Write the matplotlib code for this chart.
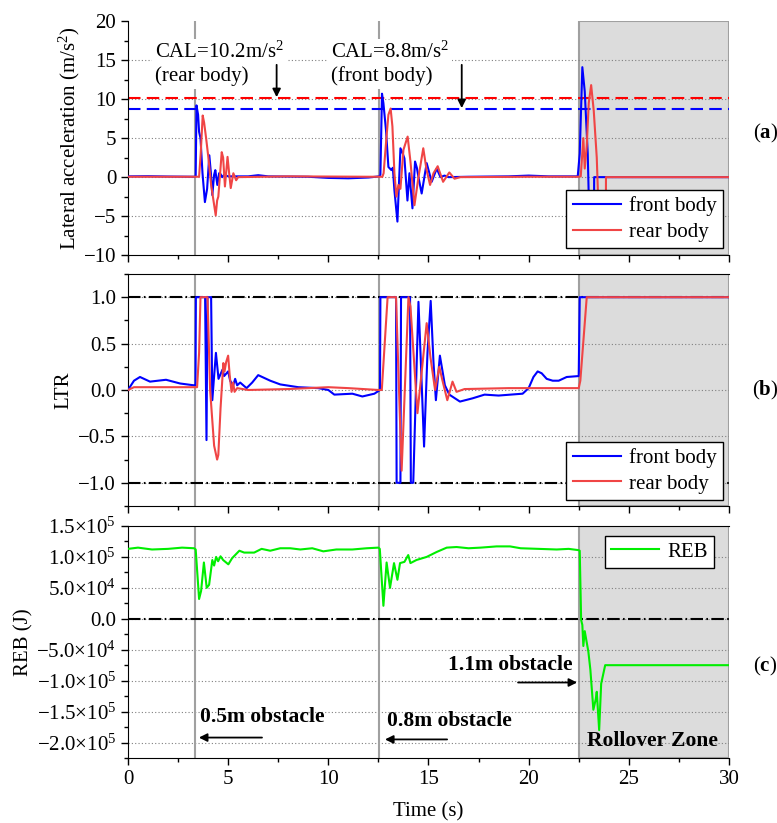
import numpy as np
import matplotlib
matplotlib.use("Agg")
import matplotlib.pyplot as plt
from matplotlib.ticker import MultipleLocator, FuncFormatter

plt.rcParams["font.family"] = ["Liberation Serif", "DejaVu Serif"]
plt.rcParams["mathtext.fontset"] = "custom"
plt.rcParams["mathtext.rm"] = "Liberation Serif"
plt.rcParams["mathtext.bf"] = "Liberation Serif:bold"
plt.rcParams["mathtext.default"] = "regular"
plt.rcParams["font.size"] = 15

# ---- data ----
# obstacle hits and rollover start (s)
obstacle_times = [3.33, 12.53]
rollover_start = 22.5
t_end = 30.0

# critical lateral acceleration (m/s^2)
cal_rear = 10.2
cal_front = 8.8

# (a) lateral acceleration, front body
acc_front_t = [0, 1, 2, 3.3, 3.38, 3.42, 3.5, 3.55, 3.62, 3.72, 3.84, 3.95, 4.06, 4.14, 4.21, 4.3,
               4.36, 4.46, 4.55, 4.62, 4.7, 4.8, 5.0, 6.0, 6.5, 7.0, 9.0, 10.0, 11.0, 12.0, 12.55,
               12.6, 12.68, 12.75, 12.88, 13.0, 13.15, 13.22, 13.3, 13.45, 13.6, 13.72, 13.8, 13.95,
               14.05, 14.2, 14.33, 14.42, 14.5, 14.66, 14.91, 15.16, 15.41, 15.6, 15.8, 16.0, 17.0,
               19.0, 20.0, 21.0, 22.45, 22.55, 22.68, 22.8, 22.95, 23.06, 23.26, 23.27, 30]
acc_front = [0.1, 0.12, 0.08, 0.05, 0.1, 9.2, 8.0, 5.8, 5.0, 0.5, -3.2, -1.5, 2.8, 0.5, -2.3, 0.3,
             0.9, -1.0, 0.5, 0.4, 0.0, 0.3, 0.1, 0.1, 0.25, 0.1, 0.05, -0.1, -0.15, -0.05, 0.1,
             0.3, 10.7, 9.5, 6.0, 1.3, 0.9, 1.2, -1.7, -5.7, 3.7, 3.0, 2.4, -3.0,
             0.5, -4.0, 2.0, 1.2, 0.0, -2.1, 1.8, -0.6, 1.1, 0.0, 0.2, 0.0, 0.05,
             0.1, 0.2, 0.1, 0.1, 3.0, 14.1, 11.0, 3.0, -9.0, -9.0, 0.0, 0.0]

# (a) lateral acceleration, rear body
acc_rear_t = [0, 3.3, 3.55, 3.63, 3.73, 3.8, 3.9, 4.01, 4.15, 4.38, 4.45, 4.51, 4.6, 4.68, 4.75,
              4.84, 4.97, 5.05, 5.13, 5.26, 5.4, 5.5, 8.0, 12.0, 12.7, 12.76, 12.9, 13.0, 13.11,
              13.2, 13.3, 13.4, 13.5, 13.6, 13.75, 13.96, 14.1, 14.3, 14.5, 14.74, 14.9, 15.08,
              15.25, 15.46, 15.73, 16.04, 16.3, 16.6, 20.0, 22.5, 22.6, 22.73, 22.8, 22.9, 23.0,
              23.12, 23.25, 23.4, 23.55, 23.85, 23.86, 30]
acc_rear = [0.05, 0.05, 0.05, 3.0, 7.9, 7.0, 5.0, 2.6, -1.0, -4.9, -3.0, -2.5, 0.5, 3.2, 2.5,
            -1.2, 2.6, 0.5, -1.4, 0.5, -0.4, 0.0, 0.1, 0.05, 0.05, 0.5, 5.0, 8.0, 8.8,
            6.5, 0.5, -2.5, -1.0, -1.5, 3.5, 5.2, 2.0, -3.6, 0.0, 3.7, 1.0, -1.0,
            0.5, 1.4, -0.6, 0.6, -0.2, 0.0, 0.05, 0.05, 0.1, 5.0, 1.1, 4.0, 9.5,
            11.8, 8.5, 2.5, -9.0, -9.0, 0.0, 0.0]

# (b) LTR, front body
ltr_front_t = [0, 0.3, 0.6, 1.1, 1.9, 2.6, 3.3, 3.37, 3.39, 3.85, 3.92, 3.97, 4.15, 4.21, 4.3,
               4.39, 4.52, 4.62, 4.72, 4.8, 5.0, 5.1, 5.25, 5.35, 5.45, 5.6, 5.92, 6.2, 6.5, 6.8,
               7.1, 7.6, 8.5, 9.5, 10.0, 10.3, 11.2, 11.7, 12.3, 12.58, 12.6, 13.38, 13.41, 13.6,
               13.63, 14.08, 14.12, 14.24, 14.5, 14.62, 14.78, 14.95, 15.11, 15.25, 15.37, 15.57,
               15.82, 16.04, 16.57, 17.2, 17.8, 18.5, 19.1, 19.7, 20.0, 20.24, 20.45, 20.65, 20.9,
               21.2, 21.5, 21.9, 22.5, 22.55, 30]
ltr_front = [0.0, 0.1, 0.14, 0.09, 0.11, 0.07, 0.05, 0.05, 1.0, 1.0, -0.54, 1.0, 1.0, -0.11, 0.15,
             0.40, 0.12, 0.17, 0.22, 0.15, 0.2, 0.1, 0.05, 0.12, 0.05, 0.08, 0.02, 0.08, 0.16, 0.13,
             0.1, 0.06, 0.03, 0.02, 0.0, -0.05, -0.04, -0.07, -0.04, 0.0, 1.0, 1.0, -1.0, -1.0,
             1.0, 1.0, -1.0, -1.0, 0.95, 0.3, -0.61, 0.4, 0.96, 0.3, -0.11, 0.37,
             0.05, -0.05, -0.125, -0.09, -0.05, -0.06, -0.05, -0.04, 0.02, 0.14, 0.2, 0.18, 0.12,
             0.1, 0.1, 0.14, 0.15, 1.0, 1.0]

# (b) LTR, rear body
ltr_rear_t = [0, 0.3, 3.3, 3.45, 3.55, 3.62, 3.97, 4.1, 4.3, 4.45, 4.51, 4.62, 4.76, 4.82, 4.9,
              5.0, 5.08, 5.17, 5.25, 5.32, 5.45, 6.0, 8.0, 10.0, 11.0, 12.5, 12.67, 12.96, 13.38,
              13.66, 14.0, 14.1, 14.45, 14.91, 15.1, 15.33, 15.54, 15.7, 15.94, 16.2, 16.4, 16.8,
              19.0, 22.5, 22.58, 22.9, 30]
ltr_rear = [0.0, 0.03, 0.03, 0.03, 0.4, 1.0, 1.0, 0.0, -0.6, -0.75, -0.7, -0.2, 0.29, 0.2, 0.3,
            0.37, 0.15, -0.02, 0.08, -0.02, 0.02, 0.0, 0.01, 0.03, 0.02, 0.0, 0.0, 1.0, 1.0,
            -0.87, 1.0, 0.9, -0.25, 0.72, 0.35, 0.0, 0.25, 0.1, -0.11, 0.09, -0.02, 0.01,
            0.02, 0.02, 0.1, 1.0, 1.0]

# (c) rollover energy barrier (J)
reb_t = [0, 0.5, 1.2, 2.0, 2.7, 3.3, 3.38, 3.55, 3.65, 3.79, 3.93, 4.05, 4.21, 4.3, 4.4, 4.5,
         4.62, 4.75, 5.01, 5.2, 5.56, 5.8, 6.3, 6.67, 7.1, 7.6, 8.1, 8.6, 9.2, 9.75, 10.4, 11.2,
         11.92, 12.5, 12.57, 12.75, 12.91, 13.08, 13.28, 13.45, 13.58, 13.8, 13.99, 14.1, 14.4,
         14.91, 15.41, 15.91, 16.4, 17.0, 17.6, 18.4, 19.07, 19.6, 20.5, 21.4, 22.0, 22.48,
         22.55, 22.62, 22.68, 22.73, 22.8, 22.98, 23.08, 23.23, 23.35, 23.4, 23.52, 23.62,
         23.82, 30]
reb = [1.13e5, 1.15e5, 1.12e5, 1.13e5, 1.15e5, 1.14e5, 1.12e5, 0.32e5, 0.45e5, 0.91e5, 0.5e5,
       0.55e5, 0.95e5, 0.86e5, 1.0e5, 0.93e5, 1.01e5, 0.95e5, 0.88e5, 0.98e5, 1.1e5, 1.07e5,
       1.07e5, 1.13e5, 1.1e5, 1.14e5, 1.14e5, 1.12e5, 1.14e5, 1.09e5, 1.12e5, 1.12e5, 1.14e5,
       1.15e5, 1.13e5, 0.21e5, 0.91e5, 0.5e5, 0.9e5, 0.63e5, 0.9e5, 0.92e5, 1.03e5, 0.9e5,
       0.95e5, 1.0e5, 1.08e5, 1.15e5, 1.16e5, 1.14e5, 1.15e5, 1.17e5, 1.17e5, 1.14e5, 1.13e5,
       1.12e5, 1.13e5, 1.11e5, 1.1e5, -0.02e5, -0.1e5, -0.44e5, -0.2e5, -0.53e5, -0.82e5,
       -1.47e5, -1.3e5, -1.18e5, -1.8e5, -1.05e5, -0.75e5, -0.75e5]

BLUE = "#0000ff"
RED = "#f04545"
GREEN = "#00ee00"
GREY = "#a0a0a0"
SHADE = "#dcdcdc"
DASHDOT = (0, (6, 1.6, 0.8, 1.6))


def style_axis(ax, ymin, ymax, major, minor):
    ax.set_xlim(0, t_end)
    ax.set_ylim(ymin, ymax)
    ax.xaxis.set_major_locator(MultipleLocator(5))
    ax.xaxis.set_minor_locator(MultipleLocator(2.5))
    ax.yaxis.set_major_locator(MultipleLocator(major))
    ax.yaxis.set_minor_locator(MultipleLocator(minor))
    ax.tick_params(which="major", direction="out", length=5, width=1)
    ax.tick_params(which="minor", direction="out", length=3, width=1)
    ax.spines["right"].set_visible(False)
    # dotted grid on the inner major ticks only
    for y in ax.get_yticks():
        if ymin + 1e-9 * abs(ymax) < y < ymax - 1e-9 * abs(ymax):
            ax.axhline(y, color="#808080", linestyle=(0, (1, 2)), linewidth=0.8, zorder=0.5)
    ax.axvspan(rollover_start, t_end, facecolor=SHADE, edgecolor=GREY, linewidth=1.5, zorder=0.2)
    for t in obstacle_times:
        ax.axvline(t, color=GREY, linewidth=1.5, zorder=1)


fig = plt.figure(figsize=(7.77, 8.23), dpi=100)
ax_a = fig.add_axes([0.1647, 0.690, 0.7735, 0.2843])
ax_b = fig.add_axes([0.1647, 0.3852, 0.7735, 0.2819])
ax_c = fig.add_axes([0.1647, 0.0790, 0.7735, 0.2819])

# ---- (a) lateral acceleration ----
style_axis(ax_a, -10, 20, 5, 2.5)
ax_a.spines["top"].set_visible(False)
ax_a.axhline(cal_rear, color="#ff0000", linestyle=(0, (6, 3)), linewidth=1.5, zorder=2)
ax_a.axhline(cal_front, color=BLUE, linestyle=(0, (6, 3)), linewidth=1.5, zorder=2)
ax_a.plot(acc_front_t, acc_front, color=BLUE, linewidth=1.5, label="front body", zorder=3)
ax_a.plot(acc_rear_t, acc_rear, color=RED, linewidth=1.5, label="rear body", zorder=3)
ax_a.tick_params(labelbottom=False)
ax_a.set_ylabel("Lateral acceleration (m/s$^2$)")
ax_a.yaxis.set_label_coords(-0.077, 0.5)
ax_a.text(1.35, 14.55, "CAL=10.2m/s$^2$\n(rear body)", ha="left", va="center", linespacing=1.25,
          bbox=dict(facecolor="white", edgecolor="none", pad=2), zorder=3)
ax_a.text(10.13, 14.55, "CAL=8.8m/s$^2$\n(front body)", ha="left", va="center", linespacing=1.25,
          bbox=dict(facecolor="white", edgecolor="none", pad=2), zorder=3)
arrow = dict(arrowstyle="-|>", color="k", lw=1.3, mutation_scale=12, shrinkA=0, shrinkB=0)
ax_a.annotate("", xy=(7.42, cal_rear + 0.05), xytext=(7.42, 14.4), arrowprops=arrow, zorder=4)
ax_a.annotate("", xy=(16.66, cal_front + 0.05), xytext=(16.66, 14.4), arrowprops=arrow, zorder=4)
leg = ax_a.legend(loc="lower right", bbox_to_anchor=(0.99, 0.03), borderaxespad=0, fancybox=False,
                  framealpha=1, edgecolor="k", handlelength=2.3, handletextpad=0.4,
                  borderpad=0.3, labelspacing=0.3)
leg.get_frame().set_linewidth(1.0)
leg.set_zorder(5)

# ---- (b) LTR ----
style_axis(ax_b, -1.25, 1.25, 0.5, 0.25)
ax_b.yaxis.set_major_formatter(FuncFormatter(lambda v, p: f"{v:.1f}".replace("-", "\u2212")))
ax_b.axhline(1.0, color="k", linestyle=DASHDOT, linewidth=1.5, zorder=2)
ax_b.axhline(-1.0, color="k", linestyle=DASHDOT, linewidth=1.5, zorder=2)
ax_b.plot(ltr_front_t, ltr_front, color=BLUE, linewidth=1.5, label="front body", zorder=3)
ax_b.plot(ltr_rear_t, ltr_rear, color=RED, linewidth=1.5, label="rear body", zorder=3)
ax_b.tick_params(labelbottom=False)
ax_b.set_ylabel("LTR")
ax_b.yaxis.set_label_coords(-0.0915, 0.5)
leg = ax_b.legend(loc="lower right", bbox_to_anchor=(0.99, 0.026), borderaxespad=0, fancybox=False,
                  framealpha=1, edgecolor="k", handlelength=2.3, handletextpad=0.4,
                  borderpad=0.3, labelspacing=0.3)
leg.get_frame().set_linewidth(1.0)
leg.set_zorder(5)


# ---- (c) REB ----
def reb_format(v, pos):
    if abs(v) < 1e-6:
        return "0.0"
    exp = int(np.floor(np.log10(abs(v)) + 1e-9))
    mant = v / 10 ** exp
    return f"{mant:.1f}".replace("-", "\u2212") + r"$\times$10$^{%d}$" % exp


style_axis(ax_c, -2.25e5, 1.5e5, 0.5e5, 0.25e5)
ax_c.yaxis.set_major_formatter(FuncFormatter(reb_format))
ax_c.axhline(0.0, color="k", linestyle=DASHDOT, linewidth=1.5, zorder=2)
ax_c.plot(reb_t, reb, color=GREEN, linewidth=1.5, label="REB", zorder=3)
ax_c.set_ylabel("REB (J)")
ax_c.yaxis.set_label_coords(-0.158, 0.5)
ax_c.set_xlabel("Time (s)", labelpad=10)
leg = ax_c.legend(loc="upper right", bbox_to_anchor=(0.975, 0.957), borderaxespad=0, fancybox=False,
                  framealpha=1, edgecolor="k", handlelength=2.3, handletextpad=0.4, borderpad=0.3)
leg.get_frame().set_linewidth(1.0)
leg.set_zorder(5)

bold = dict(fontweight="bold", fontsize=15.5, zorder=4)
ax_c.text(3.6, -1.58e5, "0.5m obstacle", ha="left", va="center", **bold)
ax_c.annotate("", xy=(3.54, -1.92e5), xytext=(6.69, -1.92e5), arrowprops=arrow, zorder=4)
ax_c.text(12.93, -1.66e5, "0.8m obstacle", ha="left", va="center", **bold)
ax_c.annotate("", xy=(12.83, -1.95e5), xytext=(15.93, -1.95e5), arrowprops=arrow, zorder=4)
ax_c.text(22.2, -0.74e5, "1.1m obstacle", ha="right", va="center", **bold)
ax_c.annotate("", xy=(22.42, -1.03e5), xytext=(19.47, -1.03e5), arrowprops=arrow, zorder=4)
ax_c.text(22.9, -1.98e5, "Rollover Zone", ha="left", va="center", **bold)

# panel tags
for y, tag in [(0.838, "a"), (0.526, "b"), (0.19, "c")]:
    fig.text(0.985, y, r"($\mathbf{%s}$)" % tag, ha="center", va="center", fontsize=15)

fig.savefig("out.png", dpi=100)
